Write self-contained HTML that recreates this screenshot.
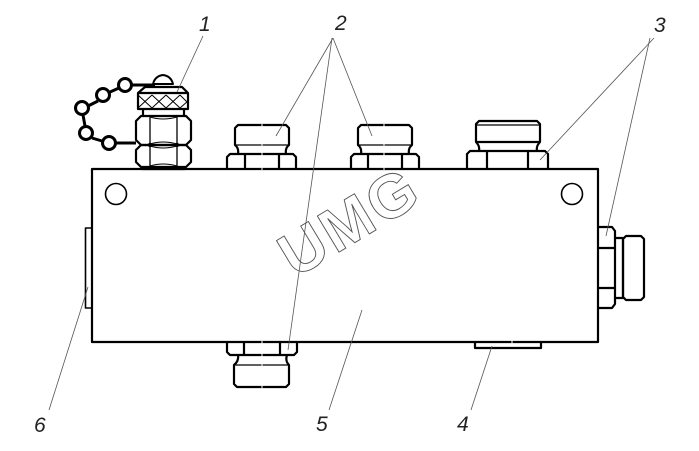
<!DOCTYPE html>
<html><head><meta charset="utf-8"><style>
html,body{margin:0;padding:0;background:#fff;width:699px;height:451px;overflow:hidden}
svg{display:block}
.t{fill:none;stroke:#000;stroke-width:2.2;stroke-linejoin:round}
.m{fill:none;stroke:#000;stroke-width:1.3}
.l{fill:none;stroke:#555;stroke-width:.8}
.n{font-family:"Liberation Sans",sans-serif;font-style:italic;font-size:21px;fill:#222}
</style></head><body>
<svg width="699" height="451" viewBox="0 0 699 451">
<text transform="translate(295,278.6) rotate(-31) scale(1.03,1.02)" font-family="Liberation Sans, sans-serif" font-weight="bold" font-size="60" letter-spacing="2.5" fill="#fff" stroke="#555" stroke-width=".9">UMG</text>

<!-- body -->
<rect x="92" y="169" width="506" height="173" class="t"/>
<circle cx="116" cy="194" r="10.5" class="t" style="stroke-width:1.6"/>
<circle cx="572" cy="194" r="10.5" class="t" style="stroke-width:1.6"/>

<!-- left plug 6 -->
<path d="M92 228H85.500V308H92" class="t" style="stroke-width:1.6"/>
<!-- bottom plug 4 -->
<path d="M475 342V348H541V342" class="t"/>

<!-- port 1 with cap -->
<path d="M142 167V169H185V167" class="t"/>
<path d="M153 84Q155 76 163 75Q171 76 173 84Z" class="t" style="stroke-width:2"/>
<path d="M138 109V93L145 87H182L188 93V109Z M138 93H188" class="t"/>
<path d="M138 95L152 108M152 95L138 108M152 95L166 108M166 95L152 108M166 95L180 108M180 95L166 108M180 95L188 103M188 101L180 108" class="m" style="stroke-width:1"/>
<path d="M143 109V116M184 109V116" class="t"/>
<path d="M141 116H186L191 121V140L186 145H141L136 140V121Z" class="t"/>
<path d="M141 145H186L191 150V162L186 167H141L136 162V150Z" class="t"/>
<path d="M150 117V166M177 117V166" class="m"/>
<path d="M150 117Q163 121 177 117M150 144Q163 140 177 144M150 146Q163 150 177 146M150 166Q163 162 177 166" class="m" style="stroke-width:1"/>
<circle cx="150" cy="145" r="2.200" fill="#000"/><circle cx="177" cy="145" r="2.200" fill="#000"/>
<!-- chain -->
<g class="t" style="stroke-width:3">
<path d="M132 85H155M119 88L110 92M98 101L88 106M83 115L85 126M92 138L102 141M116 143H136"/>
<circle cx="125" cy="85" r="6.500" fill="#fff"/>
<circle cx="103" cy="95" r="6.500" fill="#fff"/>
<circle cx="82" cy="108" r="6.500" fill="#fff"/>
<circle cx="86" cy="133" r="6.500" fill="#fff"/>
<circle cx="109" cy="143" r="6.500" fill="#fff"/>
</g>

<!-- port 2a -->
<g class="t">
<path d="M227 169V157L230 154H293L296 157V169"/>
<path d="M245 155V169M279 155V169" />
<path d="M238 154Q239 148 235 145V128L238 125H286L289 128V145Q285 148 286 154"/>
<path d="M235 145H289" style="stroke-width:1.300"/>
</g>
<!-- port 2b -->
<g class="t">
<path d="M351 169V157L354 154H416L419 157V169"/>
<path d="M368 155V169M402 155V169"/>
<path d="M361 154Q362 148 358 145V128L361 125H409L412 128V145Q408 148 409 154"/>
<path d="M358 145H412" style="stroke-width:1.300"/>
</g>
<!-- port 3 -->
<g class="t">
<path d="M467 169V154L470 151H545L548 154V169"/>
<path d="M487 152V169M528 152V169"/>
<path d="M479 151Q480 146 476 142V124L479 121H537L540 124V142Q536 146 537 151"/>
<path d="M476 142H540" />
<path d="M477 125H539" style="stroke-width:1.300"/>
</g>
<!-- bottom port 2 -->
<g class="t">
<path d="M227 342V352L230 355H294L297 352V342"/>
<path d="M244 342V355M280 342V355"/>
<path d="M238 355Q239 361 234 365V384L237 387H286L289 384V365Q285 361 287 355"/>
<path d="M234 365H289" style="stroke-width:1.300"/>
</g>
<!-- right port -->
<g class="t">
<path d="M598 227H612L615 231V304L612 308H598"/>
<path d="M598 248H615M598 288H615"/>
<path d="M615 238H623V298H615"/>
<path d="M623 239L626 236H641L644 239V297L641 300H626L623 297Z"/>
</g>

<!-- centre gaps -->
<path d="M262 124V170M384 124V170M262 341V388M512 340V344" stroke="#fff" stroke-width="1"/>

<!-- leaders -->
<g class="l">
<path d="M203 36L177 92"/>
<path d="M333 38L276 136"/>
<path d="M333 38L372 136"/>
<path d="M332 38L288 350"/>
<path d="M654 38L540 160"/>
<path d="M650 38L606 236"/>
<path d="M492 346L471 410"/>
<path d="M362 310L329 410"/>
<path d="M88 287L49 410"/>
</g>

<text class="n" x="199" y="31">1</text>
<text class="n" x="335" y="30">2</text>
<text class="n" x="654" y="32">3</text>
<text class="n" x="457" y="431">4</text>
<text class="n" x="316" y="431">5</text>
<text class="n" x="34" y="432">6</text>
</svg>
</body></html>
